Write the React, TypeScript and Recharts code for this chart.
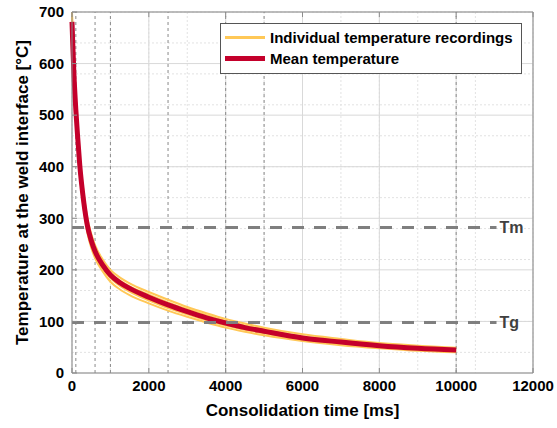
import { LineChart, Line, XAxis, YAxis, CartesianGrid, ReferenceLine, Legend } from 'recharts';

const FONT = '"Liberation Sans", Arial, Helvetica, sans-serif';
const YELLOW = '#FFC857';
const RED = '#C4002B';

// consolidation time [ms]
const timeMs = [0, 25, 50, 100, 150, 200, 300, 400, 500, 600, 800, 1000, 1250, 1500, 2000, 2500, 3000, 3500, 4000, 4500, 5000, 6000, 7000, 8000, 9000, 10000];

// temperature at the weld interface [°C]
const meanTemp = [681, 628, 580, 510, 455, 405, 335, 286, 257, 236, 209, 190, 175, 164, 147, 132, 119, 107, 97, 88, 81, 68, 60, 53, 48, 44.5];
const run1 = [700, 648, 600, 530, 474, 423, 351, 300, 270, 248, 220, 200, 185, 174, 157, 142, 128, 116, 105, 96, 88, 75, 66, 58, 53, 49];
const run2 = [692, 638, 590, 520, 464, 414, 342, 292, 263, 241, 214, 194, 179, 168, 152, 137, 124, 112, 101, 92, 85, 71, 63, 56, 50, 46.5];
const run3 = [674, 620, 572, 500, 446, 397, 328, 279, 250, 230, 203, 184, 169, 158, 141, 126, 114, 102, 92, 84, 77, 65, 57, 50, 46, 42.5];
const run4 = [665, 610, 562, 490, 436, 388, 320, 272, 243, 223, 197, 177, 162, 151, 135, 121, 109, 98, 88, 80, 73, 62, 54, 48, 43, 40];

const xTicks = [0, 2000, 4000, 6000, 8000, 10000, 12000];
const yTicks = [0, 100, 200, 300, 400, 500, 600, 700];
const markerTimes = [100, 600, 1000, 2500, 4000, 5000, 10000];
const meltTemp = 282;
const glassTemp = 98;

const minorX = Array.from({ length: 25 }, (_, i) => i * 500);
const minorY = Array.from({ length: 36 }, (_, i) => i * 20);

const runs = [run1, run2, run3, run4];

const chartData = timeMs.map((t, i) => ({
    t,
    mean: meanTemp[i],
    r1: run1[i],
    r2: run2[i],
    r3: run3[i],
    r4: run4[i],
}));

const legendItems = [
    { name: 'Individual temperature recordings', color: YELLOW, width: 3 },
    { name: 'Mean temperature', color: RED, width: 5 },
];

const tickStyle = { fill: '#000', fontSize: 15, fontWeight: 'bold', fontFamily: FONT };
const noLabel = () => <g />;

const LegendBox = () => (
    <div
        style={{
            border: '1px solid #555',
            background: '#fff',
            padding: '3px 6px 4px 4px',
            fontFamily: FONT,
            fontWeight: 'bold',
            fontSize: 15,
            lineHeight: '21px',
            color: '#000',
        }}
    >
        {legendItems.map((item) => (
            <div key={item.name} style={{ display: 'flex', alignItems: 'center', gap: 5, whiteSpace: 'nowrap' }}>
                <span style={{ display: 'inline-block', width: 40, height: item.width, background: item.color }} />
                <span>{item.name}</span>
            </div>
        ))}
    </div>
);

export default function App() {
    return (
        <div style={{ position: 'absolute', left: 0, top: 0, width: 557, height: 428, background: '#fff' }}>
            <LineChart width={557} height={428} data={chartData} margin={{ top: 11, right: 23, bottom: 0, left: 0 }}>
                <CartesianGrid verticalValues={minorX} horizontalValues={minorY} stroke="#e2e2e2" strokeDasharray="2 2" />
                <CartesianGrid verticalValues={xTicks} horizontalValues={yTicks} stroke="#d9d9d9" />
                <XAxis
                    dataKey="t"
                    type="number"
                    domain={[0, 12000]}
                    ticks={xTicks}
                    height={55}
                    stroke="#8c8c8c"
                    tickSize={-5}
                    tickMargin={12}
                    tick={tickStyle}
                    label={{ value: 'Consolidation time [ms]', position: 'insideBottom', offset: 12, fill: '#000', fontSize: 17, fontWeight: 'bold', fontFamily: FONT }}
                />
                <XAxis xAxisId="top" orientation="top" dataKey="t" type="number" domain={[0, 12000]} ticks={xTicks} height={1} stroke="#8c8c8c" tickSize={-5} tick={noLabel} />
                <YAxis
                    type="number"
                    domain={[0, 700]}
                    ticks={yTicks}
                    width={72}
                    stroke="#8c8c8c"
                    tickSize={-5}
                    tickMargin={13}
                    tick={tickStyle}
                    label={{ value: 'Temperature at the weld interface [°C]', angle: -90, position: 'center', dx: -14, fill: '#000', fontSize: 17, fontWeight: 'bold', fontFamily: FONT }}
                />
                <YAxis yAxisId="right" orientation="right" type="number" domain={[0, 700]} ticks={yTicks} width={1} stroke="#8c8c8c" tickSize={-5} tick={noLabel} />
                {markerTimes.map((m) => (
                    <ReferenceLine key={m} x={m} stroke="#8a8a8a" strokeDasharray="3 3" strokeWidth={1} />
                ))}
                {runs.map((_, i) => (
                    <Line
                        key={`r${i + 1}`}
                        dataKey={`r${i + 1}`}
                        type="monotone"
                        stroke={YELLOW}
                        strokeWidth={2}
                        dot={false}
                        isAnimationActive={false}
                    />
                ))}
                <Line dataKey="mean" type="monotone" stroke={RED} strokeWidth={5} dot={false} isAnimationActive={false} />
                <ReferenceLine
                    segment={[{ x: 0, y: meltTemp }, { x: 11050, y: meltTemp }]}
                    stroke="#7f7f7f"
                    strokeWidth={3}
                    strokeDasharray="12 10"
                    label={{ value: 'Tm', position: 'right', offset: 3, fill: '#404040', fontSize: 16, fontWeight: 'bold', fontFamily: FONT }}
                />
                <ReferenceLine
                    segment={[{ x: 0, y: glassTemp }, { x: 11050, y: glassTemp }]}
                    stroke="#7f7f7f"
                    strokeWidth={3}
                    strokeDasharray="12 10"
                    label={{ value: 'Tg', position: 'right', offset: 3, fill: '#404040', fontSize: 16, fontWeight: 'bold', fontFamily: FONT }}
                />
                <Legend
                    layout="vertical"
                    align="center"
                    verticalAlign="middle"
                    wrapperStyle={{ left: 220, top: 23, width: 302 }}
                    content={() => <LegendBox />}
                />
            </LineChart>
        </div>
    );
}
